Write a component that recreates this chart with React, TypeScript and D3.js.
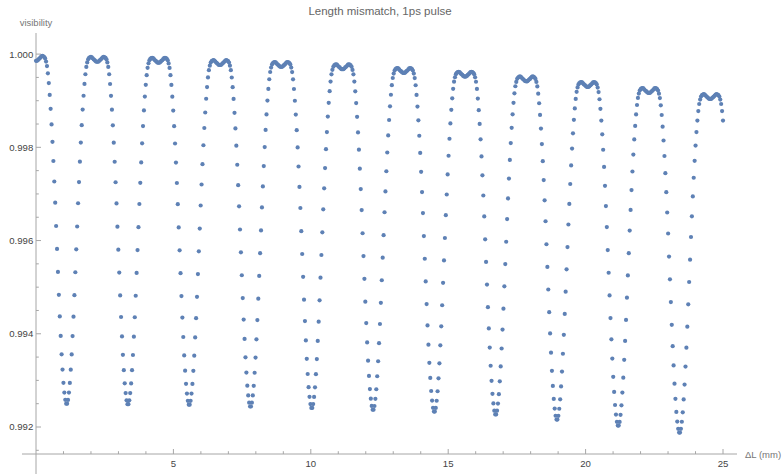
import React from "react";
import * as d3 from "d3";

const title = "Length mismatch, 1ps pulse";
const xLabel = "ΔL (mm)";
const yLabel = "visibility";

// one half of a cycle's dip profile (fraction of the dip depth)
// index 0 = centre of the "M" peak, index 33 = bottom of the dip
const halfProfile = [
  0.014, 0.014, 0.012, 0.009, 0.007, 0.004, 0.001, 0.0, 0.001, 0.003, 0.007,
  0.016, 0.029, 0.05, 0.078, 0.112, 0.152, 0.197, 0.247, 0.302, 0.361, 0.422,
  0.489, 0.555, 0.621, 0.687, 0.749, 0.805, 0.858, 0.902, 0.94, 0.968, 0.989, 1.0,
];
// visibility at the top of each "M" peak (ΔL ≈ 0, 2.23, 4.46, ...)
const peakTops = [
  0.99996, 0.99994, 0.99992, 0.99987, 0.99983, 0.99978, 0.9997, 0.99962,
  0.99952, 0.9994, 0.99927, 0.99914,
];
// visibility at the bottom of each dip (ΔL ≈ 1.12, 3.35, ...)
const dipBottoms = [
  0.9925, 0.99249, 0.99248, 0.99244, 0.99241, 0.99237, 0.99233, 0.99227,
  0.99216, 0.99203, 0.99188,
];
const samplesPerCycle = 67;
const sampleCount = 752;
const xMax = 25;

const xMajorTicks = [5, 10, 15, 20, 25];
const xMinorTicks = [1, 2, 3, 4, 6, 7, 8, 9, 11, 12, 13, 14, 16, 17, 18, 19, 21, 22, 23, 24];
const yMajorTicks = [0.992, 0.994, 0.996, 0.998, 1.0];
const yMinorTicks = [0.9915, 0.9925, 0.993, 0.9935, 0.9945, 0.995, 0.9955, 0.9965, 0.997, 0.9975, 0.9985, 0.999, 0.9995];

const profile = [...halfProfile, ...halfProfile.slice(1).reverse()];

const data = d3.range(sampleCount).map((i) => {
  const k = Math.floor(i / samplesPerCycle);
  const j = i % samplesPerCycle;
  const top = j <= 33 ? peakTops[k] : peakTops[Math.min(k + 1, peakTops.length - 1)];
  const bottom = dipBottoms[Math.min(k, dipBottoms.length - 1)];
  return { x: (i * xMax) / (sampleCount - 1), v: top - profile[j] * (top - bottom) };
});

export default function App() {
  const W = 782;
  const H = 474;
  const x = d3.scaleLinear().domain([0, 25]).range([36, 723]);
  const y = d3.scaleLinear().domain([0.992, 1.0]).range([427, 54.1]);
  const axisY = 454;
  const axisX = 36;
  const font = "'Liberation Sans', Arial, sans-serif";
  const axisColor = "#a6a6a6";
  const tickText = "#444";

  return (
    <svg
      width={W}
      height={H}
      style={{ position: "absolute", left: 0, top: 0, background: "#fff" }}
      fontFamily={font}
    >
      <text x={380} y={14.8} textAnchor="middle" fontSize={11.5} fill="#666">
        {title}
      </text>

      {/* axes */}
      <line x1={x(-0.51)} x2={x(25.51)} y1={axisY} y2={axisY} stroke={axisColor} strokeWidth={1} />
      <line x1={axisX} x2={axisX} y1={33} y2={H} stroke={axisColor} strokeWidth={1} />

      {xMajorTicks.map((t) => (
        <g key={"xM" + t}>
          <line x1={x(t)} x2={x(t)} y1={axisY} y2={axisY - 5} stroke={axisColor} />
          <text x={x(t)} y={466.5} textAnchor="middle" fontSize={9.6} fill={tickText}>
            {t}
          </text>
        </g>
      ))}
      {xMinorTicks.map((t) => (
        <line key={"xm" + t} x1={x(t)} x2={x(t)} y1={axisY} y2={axisY - 2.8} stroke={axisColor} />
      ))}
      {yMajorTicks.map((t) => (
        <g key={"yM" + t}>
          <line x1={axisX} x2={axisX + 5} y1={y(t)} y2={y(t)} stroke={axisColor} />
          <text x={33.3} y={y(t) + 3.4} textAnchor="end" fontSize={9.6} fill={tickText}>
            {d3.format(".3f")(t)}
          </text>
        </g>
      ))}
      {yMinorTicks.map((t) => (
        <line key={"ym" + t} x1={axisX} x2={axisX + 2.8} y1={y(t)} y2={y(t)} stroke={axisColor} />
      ))}

      <text x={axisX} y={26} textAnchor="middle" fontSize={9.5} fill="#777">
        {yLabel}
      </text>
      <text x={745} y={457.5} textAnchor="start" fontSize={9.5} fill="#777">
        {xLabel}
      </text>

      <g fill="#5E81B5">
        {data.map((d, i) => (
          <circle key={i} cx={x(d.x)} cy={y(d.v)} r={2.1} />
        ))}
      </g>
    </svg>
  );
}
